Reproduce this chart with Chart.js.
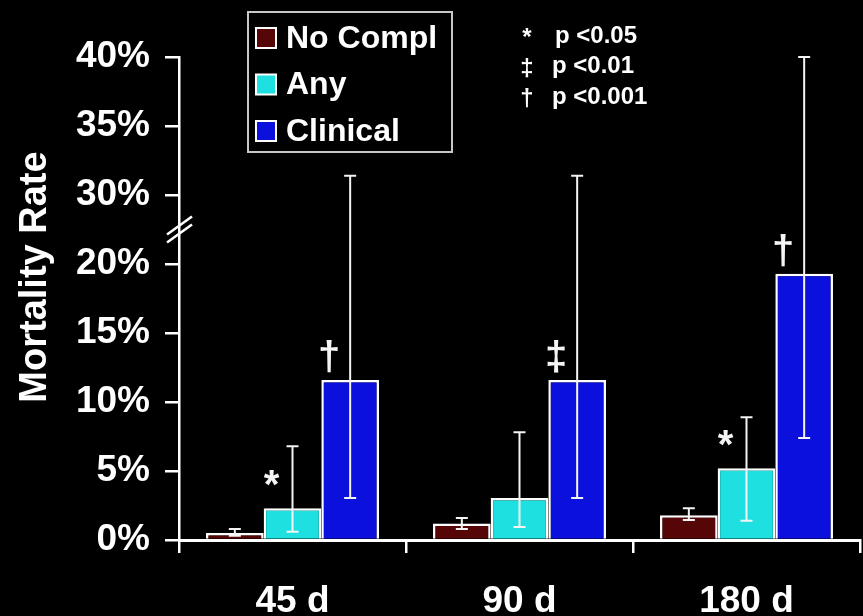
<!DOCTYPE html>
<html><head><meta charset="utf-8">
<script src="https://cdn.jsdelivr.net/npm/chart.js@4.4.0/dist/chart.umd.min.js"></script>
<style>html,body{margin:0;padding:0;background:#000;}canvas{display:block;}</style>
</head><body>
<canvas id="c" width="863" height="616"></canvas>
<script>
const categories = ['45 d', '90 d', '180 d'];
const seriesNames = ['No Compl', 'Any', 'Clinical'];
const noCompl = [0.5, 1.2, 1.8];
const noComplLow = [0.3, 0.8, 1.45];
const noComplHigh = [0.8, 1.6, 2.3];
const anyCompl = [2.3, 3.05, 5.2];
const anyLow = [0.6, 0.95, 1.4];
const anyHigh = [6.8, 7.8, 8.9];
const clinical = [11.6, 11.6, 19.3];
const clinicalLow = [3.05, 3.05, 7.4];
const clinicalHigh = [31.4, 31.4, 40];
const noComplMarks = ['', '', ''];
const anyMarks = ['*', '', '*'];
const clinicalMarks = ['\u2020', '\u2021', '\u2020'];
const yTickValues = [0, 5, 10, 15, 20, 30, 35, 40];
const pSymbols = ['*', '\u2021', '\u2020'];
const pTexts = ['p <0.05', 'p <0.01', 'p <0.001'];
const yTitle = 'Mortality Rate';

// axis break: 20%..25% hidden (values above 25 shifted down by 5)
const BREAK_HI = 25, BREAK_GAP = 5;
function toAxis(v) { return v > BREAK_HI ? v - BREAK_GAP : v; }

const FONT = "'Liberation Sans', Arial, Helvetica, sans-serif";
const colors = ['#560606', '#1fe0e0', '#0c10dc'];

const errorBars = {
  id: 'errorBars',
  afterDatasetsDraw(chart) {
    const ctx = chart.ctx, ys = chart.scales.y;
    ctx.save();
    ctx.strokeStyle = '#f4f4f4';
    ctx.lineWidth = 2;
    chart.data.datasets.forEach((ds, i) => {
      chart.getDatasetMeta(i).data.forEach((bar, j) => {
        const x = bar.x;
        const yl = ys.getPixelForValue(toAxis(ds.low[j]));
        const yh = ys.getPixelForValue(toAxis(ds.high[j]));
        ctx.beginPath();
        ctx.moveTo(x, yl); ctx.lineTo(x, yh);
        ctx.moveTo(x - 6, yl); ctx.lineTo(x + 6, yl);
        ctx.moveTo(x - 6, yh); ctx.lineTo(x + 6, yh);
        ctx.stroke();
      });
    });
    // significance marks
    ctx.fillStyle = '#f4f4f4';
    ctx.font = 'bold 40px ' + FONT;
    ctx.textAlign = 'center';
    ctx.textBaseline = 'alphabetic';
    chart.data.datasets.forEach((ds, i) => {
      chart.getDatasetMeta(i).data.forEach((bar, j) => {
        const m = ds.marks[j];
        if (m) ctx.fillText(m, bar.x - 21, bar.y - 10);
      });
    });
    ctx.restore();
  }
};

const decorations = {
  id: 'decorations',
  afterDraw(chart) {
    const ctx = chart.ctx, ys = chart.scales.y;
    ctx.save();
    // axis break marks
    const ax = chart.chartArea.left;
    const yc = ys.getPixelForValue(22.5);
    ctx.strokeStyle = '#fff';
    ctx.lineWidth = 2.5;
    [-4, 4].forEach(k => {
      ctx.beginPath();
      ctx.moveTo(ax - 12, yc + k + 9);
      ctx.lineTo(ax + 13, yc + k - 9);
      ctx.stroke();
    });
    // y title
    ctx.save();
    ctx.translate(36, 277);
    ctx.rotate(-Math.PI / 2);
    ctx.fillStyle = '#fff';
    ctx.font = 'bold 38px ' + FONT;
    ctx.textAlign = 'center';
    ctx.textBaseline = 'middle';
    ctx.fillText(yTitle, 0, 0);
    ctx.restore();
    // series legend
    ctx.strokeStyle = '#c8c8c8';
    ctx.lineWidth = 2;
    ctx.strokeRect(248, 12, 204, 140);
    ctx.font = 'bold 32px ' + FONT;
    ctx.textAlign = 'left';
    ctx.textBaseline = 'middle';
    chart.data.datasets.forEach((ds, i) => {
      const cy = 38 + i * 46.5;
      ctx.fillStyle = ds.backgroundColor;
      ctx.fillRect(256, cy - 10, 20, 20);
      ctx.strokeStyle = '#fff';
      ctx.lineWidth = 2;
      ctx.strokeRect(256, cy - 10, 20, 20);
      ctx.fillStyle = '#fff';
      ctx.fillText(ds.label, 286, cy + 1);
    });
    // p-value key
    ctx.font = 'bold 24px ' + FONT;
    pSymbols.forEach((s, i) => {
      const cy = 36 + i * 30.5;
      ctx.textAlign = 'center';
      ctx.textBaseline = 'alphabetic';
      ctx.fillText(s, 527, cy + 9);
      ctx.textAlign = 'left';
      ctx.textBaseline = 'middle';
      ctx.fillText(pTexts[i], i === 0 ? 555 : 552, cy);
    });
    ctx.restore();
  }
};

const tickFont = { family: FONT, size: 37, weight: 'bold' };

new Chart(document.getElementById('c'), {
  type: 'bar',
  data: {
    labels: categories,
    datasets: [
      { label: seriesNames[0], data: noCompl.map(toAxis), backgroundColor: colors[0], low: noComplLow, high: noComplHigh, marks: noComplMarks },
      { label: seriesNames[1], data: anyCompl.map(toAxis), backgroundColor: colors[1], low: anyLow, high: anyHigh, marks: anyMarks },
      { label: seriesNames[2], data: clinical.map(toAxis), backgroundColor: colors[2], low: clinicalLow, high: clinicalHigh, marks: clinicalMarks }
    ]
  },
  options: {
    responsive: false,
    animation: false,
    devicePixelRatio: 1,
    layout: { padding: { top: 57, right: 3, left: 0, bottom: 0 } },
    datasets: { bar: { categoryPercentage: 0.762, barPercentage: 1, borderColor: '#fff', borderWidth: 2.5 } },
    plugins: { legend: { display: false }, tooltip: { enabled: false } },
    scales: {
      x: {
        grid: { display: true, drawOnChartArea: false, drawTicks: true, tickLength: 13, color: '#fff', lineWidth: 2.5, offset: true },
        border: { display: true, color: '#fff', width: 3 },
        ticks: { color: '#fff', font: tickFont, padding: 27 },
        afterFit(s) { s.height = 76; }
      },
      y: {
        min: 0, max: 35,
        afterBuildTicks(s) { s.ticks = yTickValues.map(v => ({ value: toAxis(v) })); },
        ticks: { color: '#fff', font: tickFont, padding: 15, callback: (v, i) => yTickValues[i] + '%' },
        grid: { drawOnChartArea: false, drawTicks: true, tickLength: 14, color: '#fff', lineWidth: 2.5 },
        border: { display: true, color: '#fff', width: 2.5 },
        afterFit(s) { s.width = 179; }
      }
    }
  },
  plugins: [errorBars, decorations]
});
</script>
</body></html>
